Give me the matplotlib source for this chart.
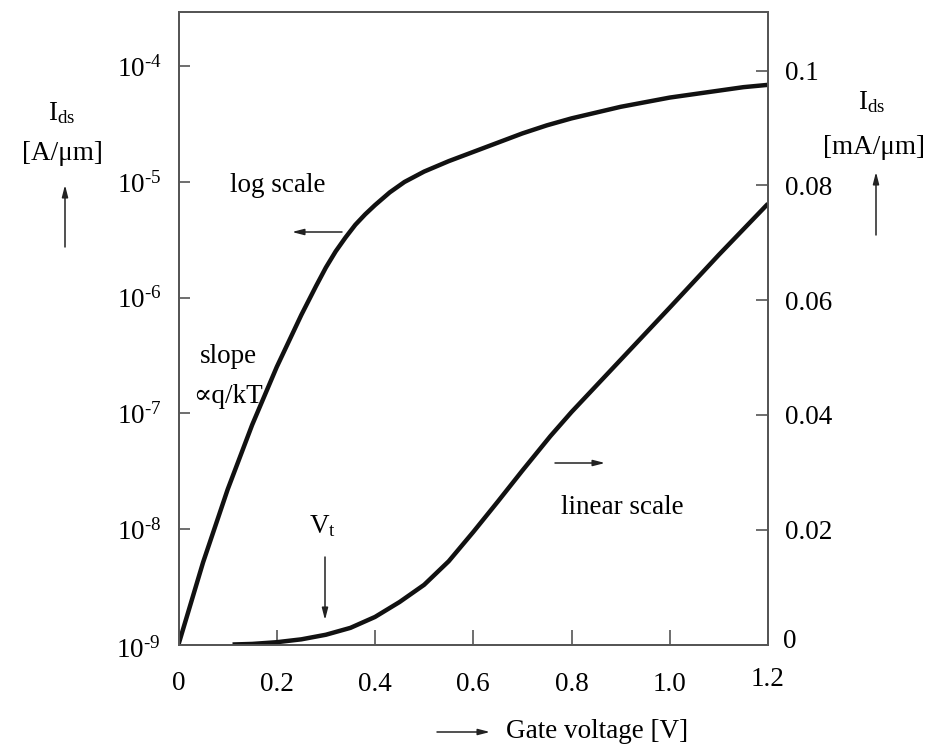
import matplotlib
matplotlib.use("Agg")
import matplotlib.pyplot as plt

plt.rcParams['font.family'] = ['Liberation Serif', 'DejaVu Serif']
plt.rcParams['mathtext.fontset'] = 'custom'
plt.rcParams['mathtext.rm'] = 'Liberation Serif'
plt.rcParams['mathtext.it'] = 'Liberation Serif:italic'

# Gate voltage [V] and log10 of drain current [A/um] (left, log scale)
vg_log = [0.00, 0.05, 0.10, 0.15, 0.20, 0.25, 0.28, 0.30, 0.32, 0.34, 0.36, 0.38,
          0.40, 0.43, 0.46, 0.50, 0.55, 0.60, 0.65, 0.70, 0.75, 0.80, 0.85, 0.90,
          0.95, 1.00, 1.05, 1.10, 1.15, 1.20]
log_ids = [-9.00, -8.29, -7.66, -7.10, -6.60, -6.15, -5.90, -5.74, -5.60, -5.48,
           -5.37, -5.28, -5.20, -5.09, -5.00, -4.91, -4.82, -4.74, -4.66, -4.58,
           -4.51, -4.45, -4.40, -4.35, -4.31, -4.27, -4.24, -4.21, -4.18, -4.16]

# Gate voltage [V] and drain current [mA/um] (right, linear scale)
vg_lin = [0.11, 0.15, 0.20, 0.25, 0.30, 0.35, 0.40, 0.45, 0.50, 0.55, 0.60, 0.65,
          0.70, 0.757, 0.80, 0.90, 1.00, 1.10, 1.20]
ids_lin = [0.0000, 0.0001, 0.0004, 0.0009, 0.0017, 0.0029, 0.0048, 0.0074, 0.0104,
           0.0145, 0.0196, 0.0249, 0.0303, 0.0363, 0.0405, 0.0496, 0.0587, 0.0679,
           0.0768]

x_ticks = [0.2, 0.4, 0.6, 0.8, 1.0]
x_ticklabels = ['0.2', '0.4', '0.6', '0.8', '1.0']
log_ticks = [1e-8, 1e-7, 1e-6, 1e-5, 1e-4]
log_ticklabels = [r'$10^{\text{-}8}$', r'$10^{\text{-}7}$', r'$10^{\text{-}6}$',
                  r'$10^{\text{-}5}$', r'$10^{\text{-}4}$']
lin_ticks = [0.02, 0.04, 0.06, 0.08, 0.1]
lin_ticklabels = ['0.02', '0.04', '0.06', '0.08', '0.1']

W, H = 934, 747
fig = plt.figure(figsize=(W / 100, H / 100), dpi=100)
ax = fig.add_axes([178.5 / W, 1 - 644.5 / H, 589.5 / W, 632.5 / H])
ax2 = ax.twinx()

spine_col = '#555555'
curve_col = '#111111'
fs = 19.5

ax.set_xlim(0, 1.2)
ax.set_yscale('log')
ax.set_ylim(1e-9, 10 ** -3.53)
ax2.set_ylim(0, 0.1102)

ax.plot(vg_log, [10 ** v for v in log_ids], color=curve_col, lw=3.2,
        solid_joinstyle='round', solid_capstyle='butt')
ax2.plot(vg_lin, ids_lin, color=curve_col, lw=3.2,
         solid_joinstyle='round', solid_capstyle='butt')

ax.set_xticks(x_ticks)
ax.set_xticklabels(x_ticklabels)
ax.set_yticks(log_ticks)
ax.set_yticklabels(log_ticklabels)
ax.yaxis.set_minor_locator(matplotlib.ticker.NullLocator())
ax2.set_yticks(lin_ticks)
ax2.set_yticklabels(lin_ticklabels)

ax.tick_params(axis='x', direction='in', length=11, width=1.2, color=spine_col,
               labelsize=fs, pad=20)
ax.tick_params(axis='y', direction='in', length=8, width=1.2, color=spine_col,
               labelsize=fs, pad=12)
ax2.tick_params(axis='y', direction='in', length=8.5, width=1.2, color=spine_col,
                labelsize=fs, pad=12)
for a in (ax, ax2):
    for s in a.spines.values():
        s.set_color(spine_col)
        s.set_linewidth(1.3)


def ftext(px, py, s, **kw):
    kw.setdefault('fontsize', fs)
    kw.setdefault('ha', 'center')
    kw.setdefault('va', 'center')
    fig.text(px / W, 1 - py / H, s, **kw)


def farrow(x0, y0, x1, y1):
    ax.annotate('', xy=(x1 / W, 1 - y1 / H), xytext=(x0 / W, 1 - y0 / H),
                xycoords='figure fraction', textcoords='figure fraction',
                arrowprops=dict(arrowstyle='-|>,head_length=0.7,head_width=0.18',
                                color='#222222', lw=1.1, shrinkA=0, shrinkB=0),
                annotation_clip=False)


# labels at the axis corners
ftext(160, 650, r'$10^{\text{-}9}$', ha='right')
ftext(179, 684, '0')
ftext(768, 679, '1.2')
ftext(790, 642, '0')

# axis titles
ftext(62, 113, r'I$_{\mathrm{ds}}$')
ftext(62, 154, '[A/\u03bcm]')
farrow(65, 247, 65, 185)
ftext(872, 102, r'I$_{\mathrm{ds}}$')
ftext(874, 148, '[mA/\u03bcm]')
farrow(876, 235, 876, 172)
ftext(597, 731, 'Gate voltage [V]')
farrow(437, 732, 490, 732)

# in-plot annotations
ftext(278, 186, 'log scale')
farrow(342, 232, 292, 232)
ftext(228, 357, 'slope')
ftext(228, 396, '\u221dq/kT')
ftext(322, 526, r'V$_{\mathrm{t}}$')
farrow(325, 557, 325, 620)
ftext(622, 508, 'linear scale')
farrow(555, 463, 605, 463)

fig.savefig('out.png', dpi=100, facecolor='white')
